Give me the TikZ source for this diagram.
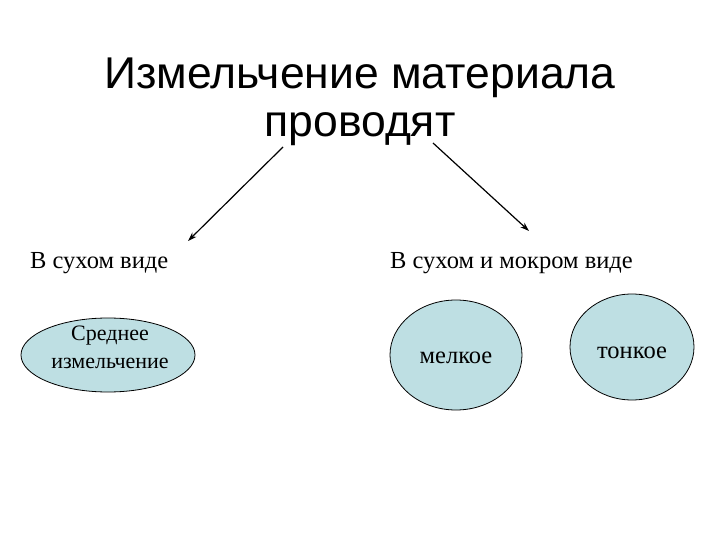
\documentclass[tikz,border=0pt]{standalone}
\usepackage{fontspec}
\setmainfont{Liberation Serif}
\newfontfamily\titlefont{Liberation Sans}
\usetikzlibrary{shapes.geometric,arrows.meta}
\definecolor{ovalfill}{RGB}{190,223,227}
\begin{document}
\begin{tikzpicture}[x=1pt,y=-1pt,
  oval/.style={draw=black,line width=0.8pt,fill=ovalfill},
  lbl/.style={font=\fontsize{24.5}{28}\selectfont,inner sep=0pt},
  arr/.style={line width=1.2pt,-{Stealth[length=9pt,width=6pt]}}]
\useasboundingbox (0,0) rectangle (720,540);
\node[font=\titlefont\fontsize{44.5}{48}\selectfont,align=center,inner sep=0pt] (title) at (360,102) {Измельчение материала\\проводят};
\coordinate (ls) at (283,147);
\coordinate (le) at (188,241);
\coordinate (rs) at (433,143);
\coordinate (re) at (529,231);
\draw[arr] (ls) -- (le);
\draw[arr] (rs) -- (re);
\node[lbl,anchor=west] (dry) at (30,263) {В сухом виде};
\node[lbl,anchor=west] (wet) at (390,263) {В сухом и мокром виде};
\draw[oval] (108,355) ellipse [x radius=87,y radius=37];
\node[lbl,align=center,font=\fontsize{22}{28}\selectfont] (e1) at (110,347) {Среднее\\измельчение};
\draw[oval] (456,355) ellipse [x radius=66,y radius=55];
\node[lbl] (e2) at (456,358) {мелкое};
\draw[oval] (632,347) ellipse [x radius=62,y radius=53];
\node[lbl] (e3) at (632,353) {тонкое};
\end{tikzpicture}
\end{document}
